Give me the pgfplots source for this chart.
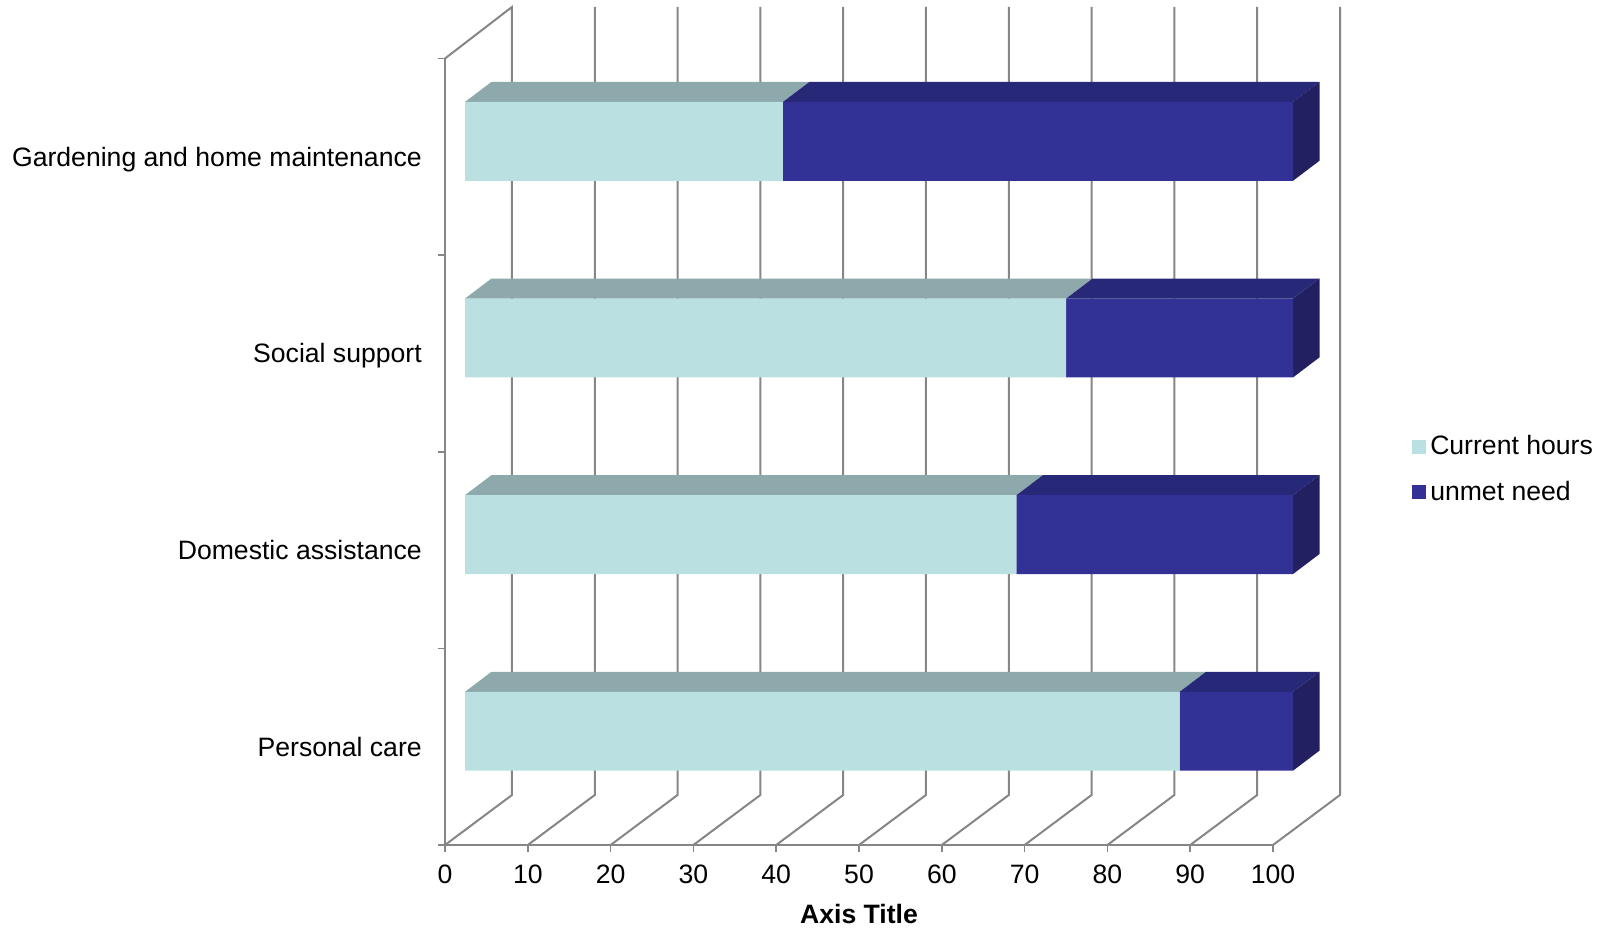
\documentclass[border=0pt]{standalone}
\usepackage{pgfplots}
\pgfplotsset{compat=1.18}
\usepackage{fontspec}
\setmainfont{Liberation Sans}
\definecolor{gridc}{HTML}{868686}
\definecolor{lightf}{HTML}{BAE0E1}
\definecolor{lightt}{HTML}{8DA9AB}
\definecolor{navyf}{HTML}{323296}
\definecolor{navyt}{HTML}{282878}
\definecolor{navys}{HTML}{222060}
\begin{document}
\begin{tikzpicture}[x=1pt,y=1pt]
\useasboundingbox (0,0) rectangle (804.5,465);
\begin{axis}[
  at={(222.5pt,42.5pt)}, anchor=south west,
  scale only axis, width=414pt, height=393.25pt,
  xmin=0, xmax=100, ymin=0, ymax=4, clip=false,
  axis x line=bottom, axis y line=left,
  axis line style={-, draw=gridc, line width=1.2pt},
  xtick={0,10,...,100},
  ytick={0.5,1.5,2.5,3.5},
  yticklabels={Personal care,Domestic assistance,Social support,Gardening and home maintenance},
  minor ytick={0,1,2,3,4},
  major tick length=3.5pt, minor tick length=3.5pt,
  tick align=outside,
  xtick style={draw=gridc, line width=0.8pt},
  ytick style={draw=none},
  minor y tick style={draw=gridc, line width=0.8pt},
  tick label style={font=\fontsize{13.3}{16}\selectfont},
  /pgf/number format/assume math mode=true,
  yticklabel style={anchor=east, xshift=-4.6pt, yshift=-1.3pt, text height=9.6pt, text depth=2.8pt},
  xticklabel style={anchor=north, yshift=-2.7pt},
]
% back wall and floor lines
\addplot[gridc, line width=1pt, mark=none, forget plot] coordinates {(0,4) (8.09,4.262) (8.09,0.2543) (0,0)};
\addplot[gridc, line width=1pt, mark=none, forget plot] coordinates {(10,0) (18.09,0.2543) (18.09,4.262)};
\addplot[gridc, line width=1pt, mark=none, forget plot] coordinates {(20,0) (28.09,0.2543) (28.09,4.262)};
\addplot[gridc, line width=1pt, mark=none, forget plot] coordinates {(30,0) (38.09,0.2543) (38.09,4.262)};
\addplot[gridc, line width=1pt, mark=none, forget plot] coordinates {(40,0) (48.09,0.2543) (48.09,4.262)};
\addplot[gridc, line width=1pt, mark=none, forget plot] coordinates {(50,0) (58.09,0.2543) (58.09,4.262)};
\addplot[gridc, line width=1pt, mark=none, forget plot] coordinates {(60,0) (68.09,0.2543) (68.09,4.262)};
\addplot[gridc, line width=1pt, mark=none, forget plot] coordinates {(70,0) (78.09,0.2543) (78.09,4.262)};
\addplot[gridc, line width=1pt, mark=none, forget plot] coordinates {(80,0) (88.09,0.2543) (88.09,4.262)};
\addplot[gridc, line width=1pt, mark=none, forget plot] coordinates {(90,0) (98.09,0.2543) (98.09,4.262)};
\addplot[gridc, line width=1pt, mark=none, forget plot] coordinates {(100,0) (108.09,0.2543) (108.09,4.262)};
% Personal care: top and side faces
\addplot[fill=lightt, draw=none, mark=none, forget plot] coordinates {(2.415,0.779) (88.715,0.779) (91.915,0.881) (5.615,0.881)} -- cycle;
\addplot[fill=navyt, draw=none, mark=none, forget plot] coordinates {(88.715,0.779) (102.415,0.779) (105.615,0.881) (91.915,0.881)} -- cycle;
\addplot[fill=navys, draw=none, mark=none, forget plot] coordinates {(102.415,0.378) (102.415,0.779) (105.615,0.881) (105.615,0.480)} -- cycle;
% Domestic assistance
\addplot[fill=lightt, draw=none, mark=none, forget plot] coordinates {(2.415,1.779) (69.015,1.779) (72.215,1.881) (5.615,1.881)} -- cycle;
\addplot[fill=navyt, draw=none, mark=none, forget plot] coordinates {(69.015,1.779) (102.415,1.779) (105.615,1.881) (72.215,1.881)} -- cycle;
\addplot[fill=navys, draw=none, mark=none, forget plot] coordinates {(102.415,1.378) (102.415,1.779) (105.615,1.881) (105.615,1.480)} -- cycle;
% Social support
\addplot[fill=lightt, draw=none, mark=none, forget plot] coordinates {(2.415,2.779) (75.015,2.779) (78.215,2.881) (5.615,2.881)} -- cycle;
\addplot[fill=navyt, draw=none, mark=none, forget plot] coordinates {(75.015,2.779) (102.415,2.779) (105.615,2.881) (78.215,2.881)} -- cycle;
\addplot[fill=navys, draw=none, mark=none, forget plot] coordinates {(102.415,2.378) (102.415,2.779) (105.615,2.881) (105.615,2.480)} -- cycle;
% Gardening and home maintenance
\addplot[fill=lightt, draw=none, mark=none, forget plot] coordinates {(2.415,3.779) (40.815,3.779) (44.015,3.881) (5.615,3.881)} -- cycle;
\addplot[fill=navyt, draw=none, mark=none, forget plot] coordinates {(40.815,3.779) (102.415,3.779) (105.615,3.881) (44.015,3.881)} -- cycle;
\addplot[fill=navys, draw=none, mark=none, forget plot] coordinates {(102.415,3.378) (102.415,3.779) (105.615,3.881) (105.615,3.480)} -- cycle;
\node[font=\fontsize{13.3}{16}\bfseries\selectfont, anchor=center] at (axis cs:50,-0.350) {Axis Title};
\end{axis}
\begin{axis}[
  at={(222.5pt,42.5pt)}, anchor=south west,
  scale only axis, width=414pt, height=393.25pt,
  xmin=-2.415, xmax=97.585, ymin=0, ymax=4, clip=false,
  hide axis,
  xbar stacked, bar width=39.4pt,
  legend style={at={(axis cs:114.4,1.910)}, anchor=west, draw=none, fill=none, inner sep=0pt, outer sep=0pt,
    font=\fontsize{13.3}{16}\selectfont, row sep=7.6pt, /tikz/every even column/.append style={column sep=0pt}},
  legend cell align=left,
  legend image code/.code={\fill[#1,draw=none] (0pt,-3.5pt) rectangle (7pt,3.5pt);},
]
\addplot[fill=lightf, draw=none] coordinates {(86.3,0.5785) (66.6,1.5785) (72.6,2.5785) (38.4,3.5785)};
\addplot[fill=navyf, draw=none] coordinates {(13.7,0.5785) (33.4,1.5785) (27.4,2.5785) (61.6,3.5785)};
\legend{Current hours, unmet need}
\end{axis}
\end{tikzpicture}
\end{document}
